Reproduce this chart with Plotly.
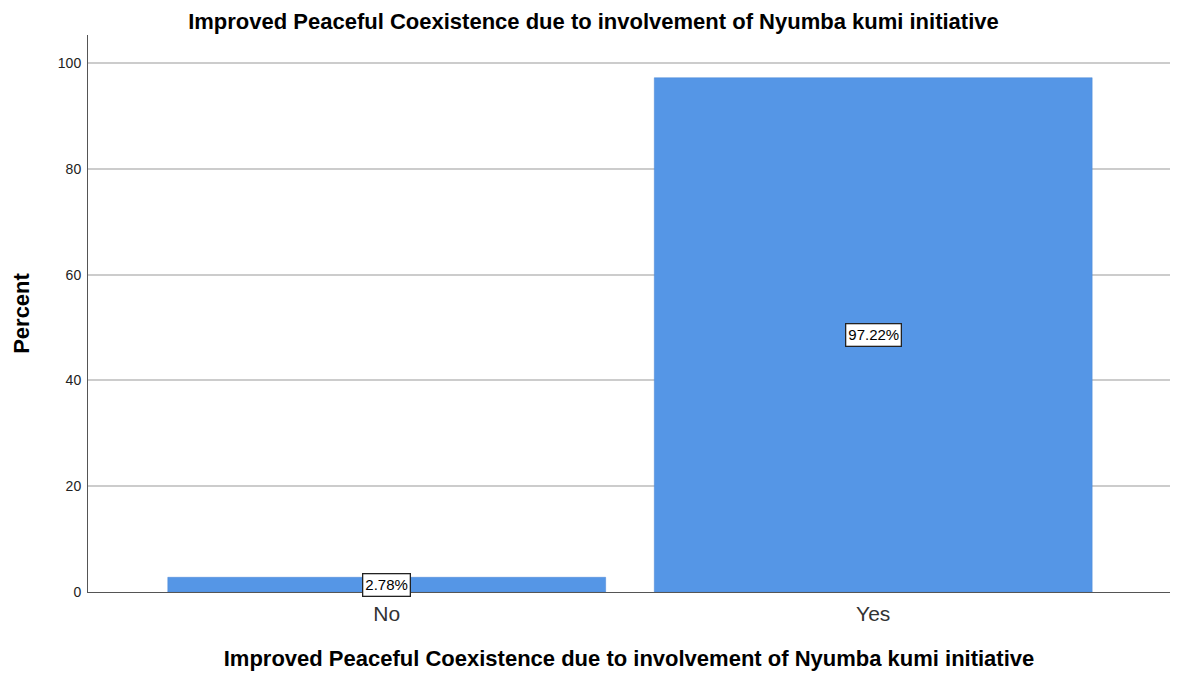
import plotly.graph_objects as go

categories = ['No', 'Yes']
percent = [2.78, 97.22]
value_labels = ['2.78%', '97.22%']

chart_title = 'Improved Peaceful Coexistence due to involvement of Nyumba kumi initiative'

fig = go.Figure()
fig.add_trace(go.Bar(
    x=categories, y=percent,
    marker=dict(color='#5596e6', line=dict(color='#4a86d4', width=0.5)),
    width=0.9,
    hoverinfo='x+y',
))

# boxed value labels, centred in each bar like SPSS does it
for cat, val, lab in zip(categories, percent, value_labels):
    fig.add_annotation(
        x=cat, y=val / 2, text=lab, showarrow=False,
        font=dict(family='Liberation Sans, Arial', size=15, color='#000000'),
        bgcolor='white', bordercolor='#222222', borderwidth=1.3, borderpad=2,
    )

# the page body has an 8px margin, so the margins are shifted to compensate
fig.update_layout(
    width=1178, height=675,
    paper_bgcolor='white', plot_bgcolor='white',
    margin=dict(l=78, r=16, t=27, b=91),
    showlegend=False,
    title=dict(text='<b>' + chart_title + '</b>', x=0.497, xanchor='center',
               y=0.98, yanchor='middle',
               font=dict(family='Liberation Sans, Arial', size=22, color='#000000')),
    font=dict(family='Liberation Sans, Arial', color='#000000'),
)

fig.update_xaxes(
    range=[-0.614, 1.61],
    showgrid=False, showline=True, linecolor='#555555', linewidth=1,
    ticks='', tickfont=dict(size=21, color='#333333'), ticklabelstandoff=3,
    title=dict(text='<b>' + chart_title + '</b>', standoff=26,
               font=dict(size=22, color='#000000')),
)
fig.update_yaxes(
    range=[0, 105.3], dtick=20,
    showgrid=True, gridcolor='#cccccc', gridwidth=1.5,
    showline=True, linecolor='#555555', linewidth=1, zeroline=False,
    ticks='', ticklen=0, tickfont=dict(size=14, color='#222222'), ticklabelstandoff=3,
    title=dict(text='<b>Percent</b>', standoff=22,
               font=dict(size=22, color='#000000')),
)

fig.write_html('out.html')
